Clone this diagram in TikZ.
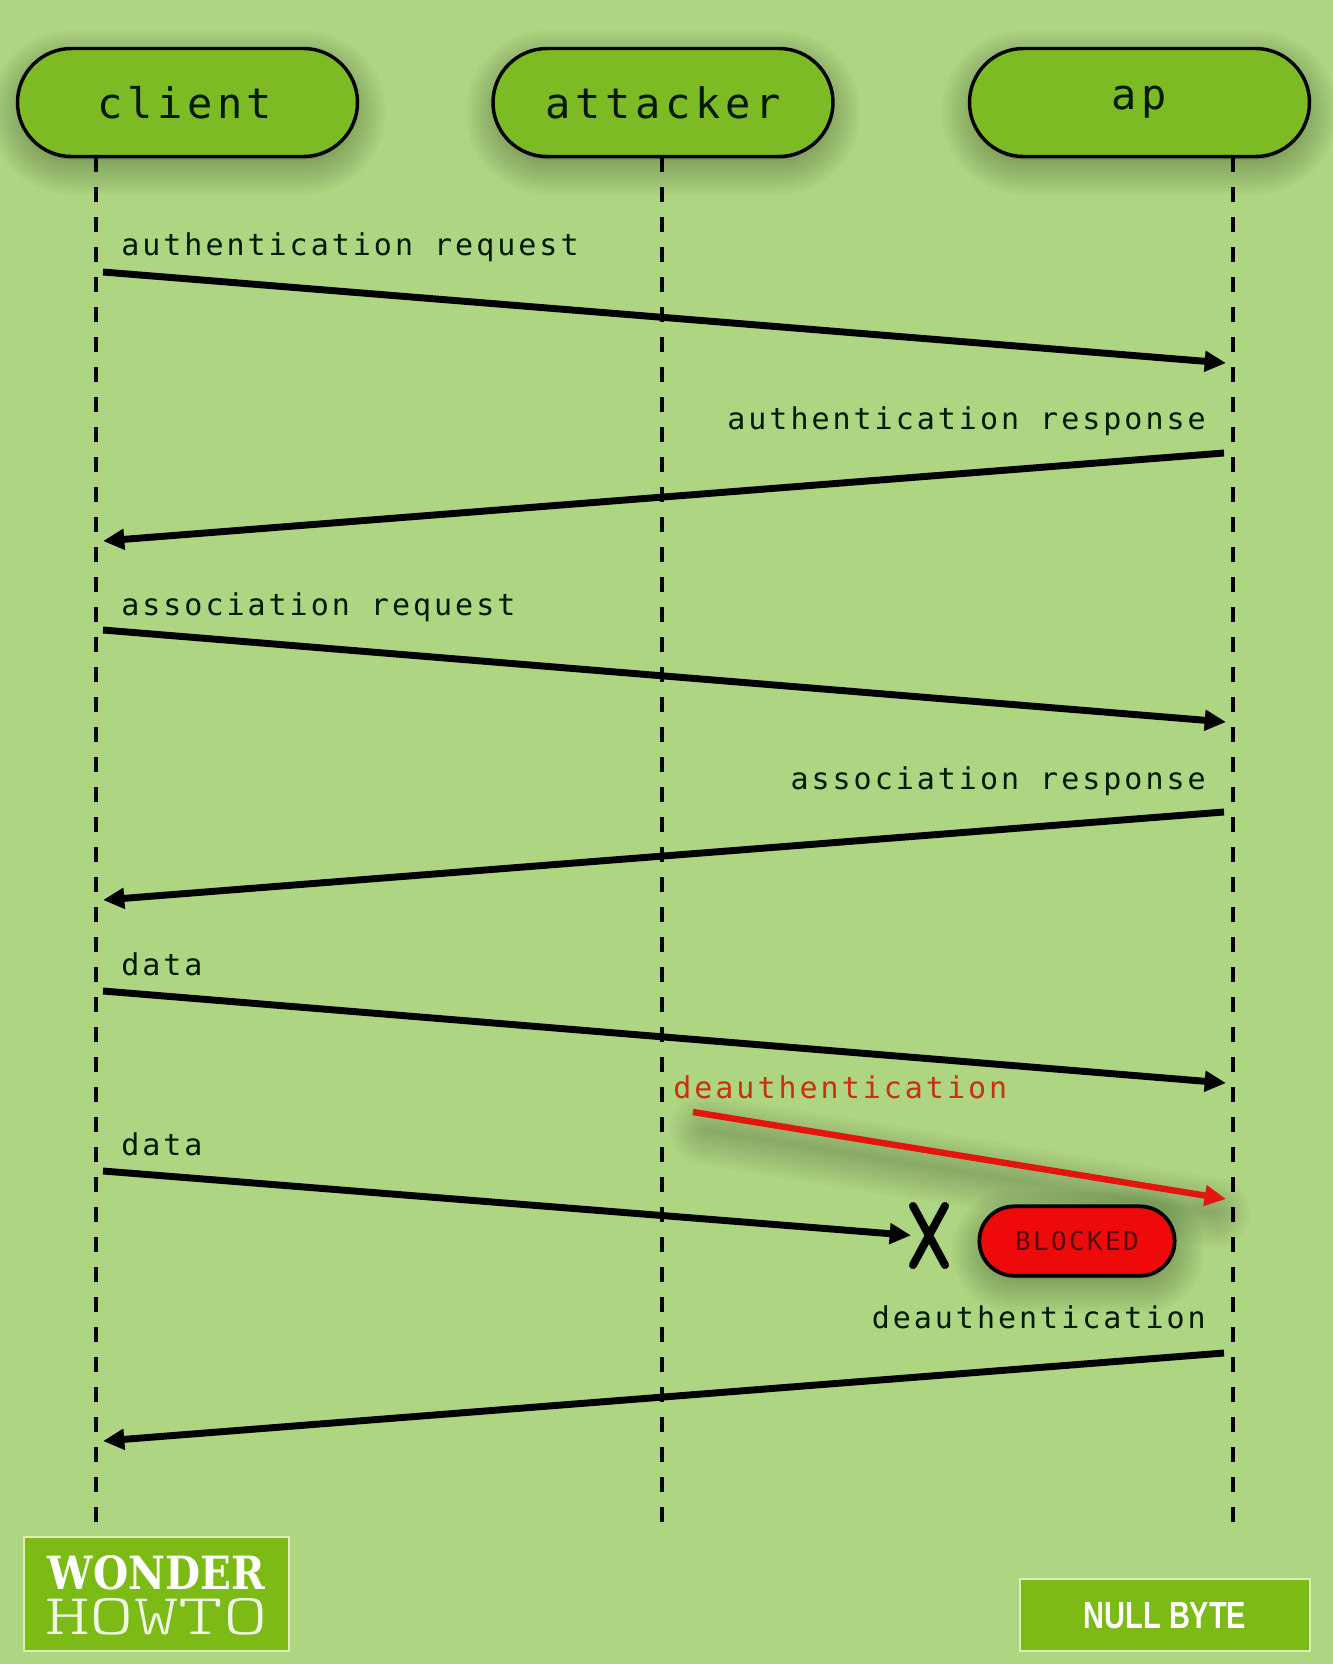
\documentclass[tikz,border=0pt]{standalone}
\usepackage{fontspec}
\usepackage{graphicx}
\usepackage{xcolor}
\usetikzlibrary{arrows.meta,shapes.misc}
\newfontfamily\seqfont[LetterSpace=10]{DejaVu Sans Mono}
\newfontfamily\actorfont[LetterSpace=11]{DejaVu Sans Mono}
\newfontfamily\blockfont[LetterSpace=9]{DejaVu Sans Mono}
\newfontfamily\slabfont{DejaVu Serif}
\newfontfamily\logofont{Liberation Sans}
\newfontfamily\thinfont{Latin Modern Mono Light}
\definecolor{bgreen}{HTML}{AED581}
\definecolor{pillgreen}{HTML}{7DBB25}
\definecolor{logogreen}{HTML}{7CBA16}
\definecolor{logoedge}{HTML}{DDEFB4}
\definecolor{sigred}{HTML}{E2160C}
\definecolor{sigtext}{HTML}{C8320C}
\definecolor{blockred}{HTML}{EE0A0A}
\definecolor{blocktext}{HTML}{550808}
\tikzset{
  actorbox/.style  = {rounded rectangle,draw=black,line width=2.6pt,fill=pillgreen,
                      minimum width=255pt,minimum height=81pt,inner sep=0pt,
                      font=\actorfont\fontsize{31.5pt}{36pt}\selectfont,text=black!90!green},
  blockbox/.style  = {rounded rectangle,draw=black,line width=2.8pt,fill=blockred,
                      minimum width=146.5pt,minimum height=52pt,inner sep=0pt,
                      font=\blockfont\fontsize{19.5pt}{22pt}\selectfont,text=blocktext},
  lifeline/.style  = {black,line width=2.6pt,dash pattern=on 11.25pt off 11.25pt},
  msgarr/.style    = {-{Triangle[length=16pt,width=15pt]},line width=5.2pt,black},
  redarr/.style    = {-{Triangle[length=16pt,width=15pt]},line width=4.8pt,sigred},
  msgtext/.style   = {anchor=base west,inner sep=0pt,text=black!90!green,
                      font=\seqfont\fontsize{22.5pt}{26pt}\selectfont},
  msgtextr/.style  = {msgtext,anchor=base east},
  logobox/.style   = {draw=logoedge,line width=1pt,fill=logogreen,inner sep=0pt},
  logotext/.style  = {inner sep=0pt,text=white}
}
% soft shadow of a pill, #1 corner, #2 corner, #3 radius
\newcommand{\pillshadow}[3]{%
  \foreach \w in {4,10,...,70}
    \draw[black,opacity=0.02,line width=\w*0.75pt,fill=black,line join=round,
          rounded corners=#3] (#1) rectangle (#2);
}
\newcommand{\msgline}[4]{%
  \coordinate (#1from) at (#2);
  \coordinate (#1to) at (#3);
  \draw[#4] (#1from) -- (#1to);
}
\begin{document}
\begin{tikzpicture}[x=0.75pt,y=-0.75pt]
  \useasboundingbox (0,0) rectangle (1333,1664);
  \fill[bgreen] (0,0) rectangle (1333,1664);

  % shadows first
  \pillshadow{25,66}{350,159}{34pt}
  \pillshadow{501,66}{825,159}{34pt}
  \pillshadow{977,66}{1302,159}{34pt}
  \pillshadow{987,1224}{1169,1278}{20pt}
  \foreach \w in {4,10,...,70}
    \draw[black,opacity=0.017,line width=\w*0.75pt,line cap=round] (705,1130) -- (1215,1213);

  % actors
  \node[actorbox] (client) at (187.5,102.5) {\kern-4pt client};
  \node[actorbox] (attacker) at (663,102.5) {attacker};
  \node[actorbox] (ap) at (1139.5,102.5) {ap};

  % lifelines
  \coordinate (clienttop) at (96,157);
  \coordinate (clientend) at (96,1523);
  \coordinate (attackertop) at (662,157);
  \coordinate (attackerend) at (662,1523);
  \coordinate (aptop) at (1233,157);
  \coordinate (apend) at (1233,1523);
  \draw[lifeline] (clienttop) -- (clientend);
  \draw[lifeline] (attackertop) -- (attackerend);
  \draw[lifeline] (aptop) -- (apend);

  % messages
  \msgline{authreq}{103,272}{1226,363}{msgarr}
  \node[msgtext] (authreqlabel) at (121,255) {authentication request};
  \msgline{authresp}{1224,453}{103,541}{msgarr}
  \node[msgtextr] (authresplabel) at (1206,429) {authentication response};
  \msgline{assocreq}{103,630}{1226,722}{msgarr}
  \node[msgtext] (assocreqlabel) at (121,615) {association request};
  \msgline{assocresp}{1224,812}{103,900}{msgarr}
  \node[msgtextr] (assocresplabel) at (1206,789) {association response};
  \msgline{dataone}{103,991}{1226,1083}{msgarr}
  \node[msgtext] (dataonelabel) at (121,975) {data};

  % attacker frame
  \msgline{deauthred}{693,1112}{1226,1199}{redarr}
  \node[msgtext,text=sigtext] (deauthredlabel) at (673,1098) {deauthentication};

  % dropped data
  \node[cross out,draw=black,line width=6pt,line cap=round,minimum width=32*0.75pt,
        minimum height=59*0.75pt,inner sep=0pt,outer sep=0pt] (stopx) at (929,1235.5) {};
  \coordinate (datatwofrom) at (103,1171);
  \draw[msgarr,shorten >=1.5pt] (datatwofrom) -- (stopx.west);
  \node[msgtext] (datatwolabel) at (121,1155) {data};
  \node[blockbox] (blocked) at (1077,1241) {BLOCKED};

  \msgline{deauth}{1224,1353}{103,1441}{msgarr}
  \node[msgtextr] (deauthlabel) at (1206,1328) {deauthentication};

  % logos
  \node[logobox,minimum width=265*0.75pt,minimum height=114*0.75pt] (wonderbox) at (156.5,1594) {};
  \node[logotext] (wonder) at (156.5,1573) {\resizebox{162.75pt}{25.5pt}{\slabfont\bfseries WONDER}};
  \node[logotext,text=white!88!logogreen] (howto) at (156.5,1617) {\resizebox{167pt}{27pt}{\thinfont HOWTO}};
  \node[logobox,minimum width=290*0.75pt,minimum height=72*0.75pt] (nullbox) at (1165,1615) {};
  \node[logotext] (nullbyte) at (1165,1615.5) {\resizebox{122pt}{19.5pt}{\logofont\bfseries NULL BYTE}};
\end{tikzpicture}
\end{document}
